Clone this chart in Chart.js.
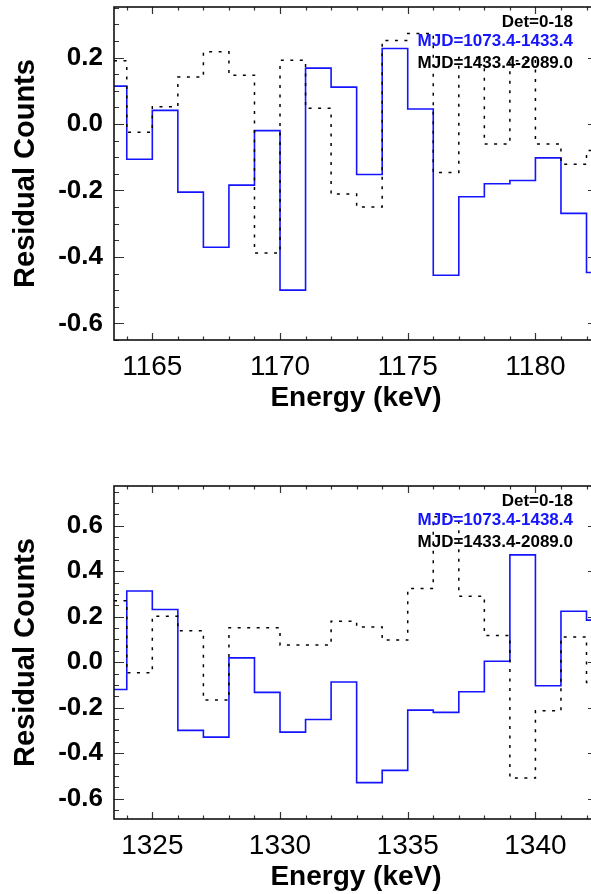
<!DOCTYPE html>
<html>
<head>
<meta charset="utf-8">
<script src="https://cdn.jsdelivr.net/npm/chart.js@4/dist/chart.umd.min.js"></script>
<style>
  html, body { margin: 0; padding: 0; background: #fff; overflow: hidden; }
  #wrap { position: relative; width: 591px; height: 894px; overflow: hidden; background: #fff; }
  canvas { position: absolute; left: 0; }
</style>
</head>
<body>
<div id="wrap">
  <canvas id="panelTop" width="600" height="415" style="top:0px"></canvas>
  <canvas id="panelBottom" width="600" height="415" style="top:479px"></canvas>
</div>
<script>
// ---- Upper panel: 1163.5 - 1182.5 keV, 1 keV bins (bin centres) ----
const energyTop = [1163.5, 1164.5, 1165.5, 1166.5, 1167.5, 1168.5, 1169.5, 1170.5, 1171.5, 1172.5,
                   1173.5, 1174.5, 1175.5, 1176.5, 1177.5, 1178.5, 1179.5, 1180.5, 1181.5, 1182.5];
const earlyTop = [0.114, -0.106, 0.041, -0.205, -0.371, -0.184, -0.020, -0.500, 0.168, 0.111,
                  -0.152, 0.227, 0.045, -0.455, -0.219, -0.180, -0.170, -0.102, -0.269, -0.447];
const lateTop  = [0.190, -0.025, 0.052, 0.141, 0.217, 0.147, -0.388, 0.192, 0.047, -0.211,
                  -0.250, 0.251, 0.272, -0.146, 0.200, -0.060, 0.190, -0.060, -0.121, -0.080];
const xTicksTop = [1165, 1170, 1175, 1180];
const yTicksTop = [-0.6, -0.4, -0.2, 0.0, 0.2];
const legendTop = ['Det=0-18', 'MJD=1073.4-1433.4', 'MJD=1433.4-2089.0'];

// ---- Lower panel: 1323.5 - 1342.5 keV ----
const energyBottom = [1323.5, 1324.5, 1325.5, 1326.5, 1327.5, 1328.5, 1329.5, 1330.5, 1331.5, 1332.5,
                      1333.5, 1334.5, 1335.5, 1336.5, 1337.5, 1338.5, 1339.5, 1340.5, 1341.5, 1342.5];
const earlyBottom = [-0.120, 0.313, 0.232, -0.300, -0.330, 0.019, -0.133, -0.308, -0.252, -0.087,
                     -0.530, -0.476, -0.211, -0.221, -0.130, 0.004, 0.472, -0.104, 0.224, 0.185];
const lateBottom  = [0.270, -0.047, 0.202, 0.138, -0.167, 0.151, 0.151, 0.075, 0.075, 0.180,
                     0.155, 0.097, 0.324, 0.640, 0.290, 0.117, -0.510, -0.214, 0.111, -0.090];
const xTicksBottom = [1325, 1330, 1335, 1340];
const yTicksBottom = [-0.6, -0.4, -0.2, 0.0, 0.2, 0.4, 0.6];
const legendBottom = ['Det=0-18', 'MJD=1073.4-1438.4', 'MJD=1433.4-2089.0'];

const FONT = '"Liberation Sans", Arial, Helvetica, sans-serif';
const BLUE = '#1414ff';

// Inward minor/major tick marks on all four sides, the frame, and the text key.
const framePlugin = {
  id: 'frameTicks',
  afterDatasetsDraw(chart, args, opts) {
    const { ctx, chartArea: a, scales: { x, y } } = chart;
    ctx.save();
    ctx.strokeStyle = '#333';
    ctx.lineWidth = 1.2;
    ctx.beginPath();
    for (let e = Math.ceil(x.min); e <= Math.floor(x.max); e++) {
      const px = Math.round(x.getPixelForValue(e)) + 0.5;
      const len = e % 5 === 0 ? 7 : 3.5;
      ctx.moveTo(px, a.bottom); ctx.lineTo(px, a.bottom - len);
      ctx.moveTo(px, a.top); ctx.lineTo(px, a.top + len);
    }
    for (let k = Math.ceil(y.min / 0.05 - 1e-9); k * 0.05 <= y.max + 1e-9; k++) {
      const py = Math.round(y.getPixelForValue(k * 0.05)) + 0.5;
      const len = k % 4 === 0 ? 10 : 5;
      ctx.moveTo(a.left, py); ctx.lineTo(a.left + len, py);
      ctx.moveTo(a.right, py); ctx.lineTo(a.right - len, py);
    }
    ctx.stroke();

    ctx.strokeStyle = '#111';
    ctx.lineWidth = 1.6;
    ctx.strokeRect(a.left, a.top, a.right - a.left, a.bottom - a.top);

    ctx.font = 'bold 17px ' + FONT;
    ctx.textAlign = 'right';
    ctx.textBaseline = 'alphabetic';
    const colors = ['#000', BLUE, '#000'];
    const offs = [19.5, 38.5, 61];
    opts.lines.forEach((t, i) => {
      ctx.fillStyle = colors[i];
      ctx.fillText(t, 573, a.top + offs[i]);
    });
    ctx.restore();
  }
};

function makePanel(id, energy, early, late, xTicks, yTicks, xMin, xMax, yMin, yMax, legendLines) {
  const toPts = vals => energy.map((e, i) => ({ x: e, y: vals[i] }));
  return new Chart(document.getElementById(id), {
    type: 'line',
    data: {
      datasets: [
        {
          label: legendLines[2],
          data: toPts(late),
          stepped: 'middle',
          borderColor: '#000',
          borderWidth: 1.5,
          borderDash: [3, 6.5],
          pointRadius: 0,
          fill: false
        },
        {
          label: legendLines[1],
          data: toPts(early),
          stepped: 'middle',
          borderColor: BLUE,
          borderWidth: 1.6,
          pointRadius: 0,
          fill: false
        }
      ]
    },
    options: {
      responsive: false,
      animation: false,
      devicePixelRatio: 1,
      layout: { padding: { left: 0, right: 2, top: 7, bottom: 0 } },
      plugins: {
        legend: { display: false },
        tooltip: { enabled: false },
        frameTicks: { lines: legendLines }
      },
      scales: {
        x: {
          type: 'linear',
          min: xMin,
          max: xMax,
          grid: { display: false, drawTicks: false },
          border: { display: false },
          afterBuildTicks: s => { s.ticks = xTicks.map(v => ({ value: v })); },
          afterFit: s => { s.height = 75; s.paddingLeft = 0; s.paddingRight = 0; },
          ticks: {
            autoSkip: false, maxRotation: 0, minRotation: 0, padding: 10, color: '#000',
            font: { family: FONT, size: 28 },
            callback: v => String(v)
          },
          title: {
            display: true, text: 'Energy (keV)', color: '#000',
            font: { family: FONT, size: 28, weight: 'bold', lineHeight: 1 },
            padding: { top: 0, bottom: 3 }
          }
        },
        y: {
          type: 'linear',
          min: yMin,
          max: yMax,
          grid: { display: false, drawTicks: false },
          border: { display: false },
          afterBuildTicks: s => { s.ticks = yTicks.map(v => ({ value: v })); },
          afterFit: s => { s.width = 114; s.paddingTop = 0; s.paddingBottom = 0; },
          ticks: {
            autoSkip: false, padding: 11, color: '#000',
            font: { family: FONT, size: 26, weight: 'bold' },
            callback: v => Number(v).toFixed(1)
          },
          title: {
            display: true, text: 'Residual Counts', color: '#000',
            font: { family: FONT, size: 29, weight: 'bold', lineHeight: 1 },
            padding: { top: 11.5, bottom: 0 }
          }
        }
      }
    },
    plugins: [framePlugin]
  });
}

makePanel('panelTop', energyTop, earlyTop, lateTop, xTicksTop, yTicksTop,
          1163.5, 1182.45, -0.65, 0.352, legendTop);
makePanel('panelBottom', energyBottom, earlyBottom, lateBottom, xTicksBottom, yTicksBottom,
          1323.5, 1342.45, -0.69, 0.775, legendBottom);
</script>
</body>
</html>
